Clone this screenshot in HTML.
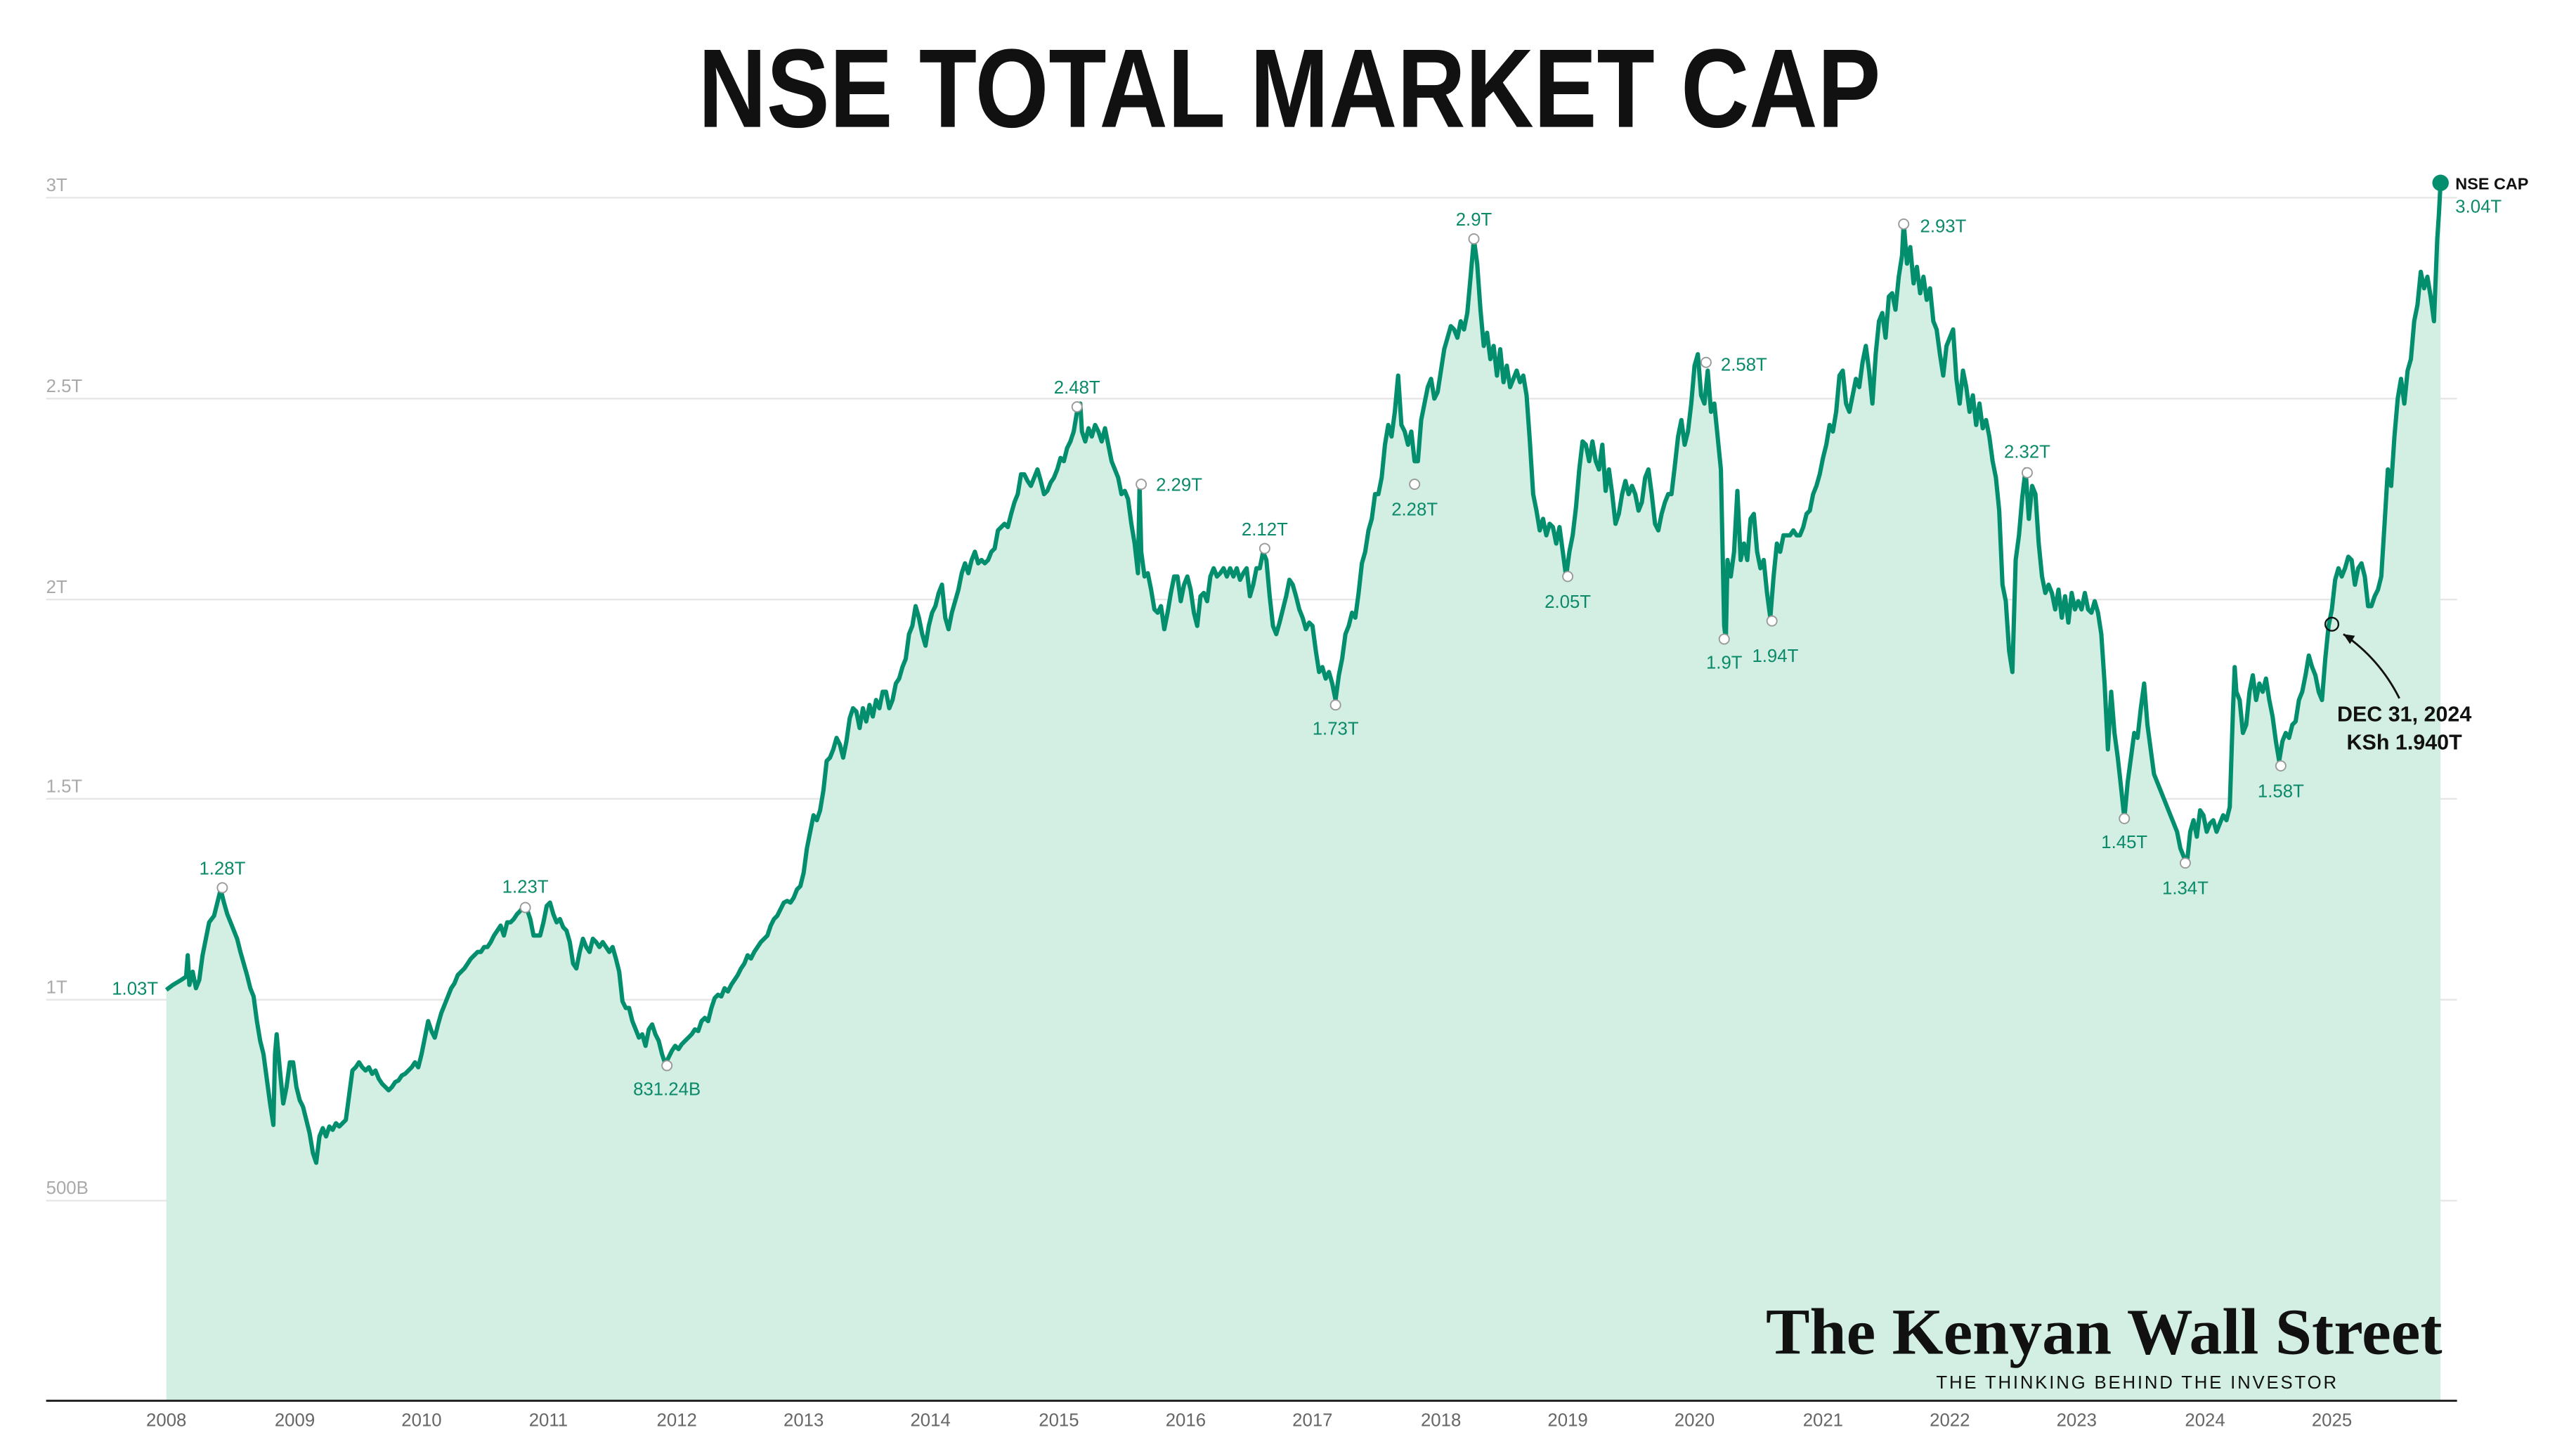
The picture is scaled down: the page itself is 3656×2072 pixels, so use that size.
<!DOCTYPE html>
<html><head><meta charset="utf-8"><style>html,body{margin:0;padding:0;background:#fff}svg{display:block}</style></head>
<body>
<svg xmlns="http://www.w3.org/2000/svg" width="3656" height="2072" viewBox="0 0 1560 884" font-family="Liberation Sans, sans-serif">
<rect width="1560" height="884" fill="#fff"/>
<text x="783" y="77" text-anchor="middle" font-size="68" font-weight="bold" fill="#111" textLength="718" lengthAdjust="spacingAndGlyphs">NSE TOTAL MARKET CAP</text>
<g stroke="#e6e6e6" stroke-width="1">
<line x1="28" x2="1492" y1="120" y2="120"/><line x1="28" x2="1492" y1="242" y2="242"/><line x1="28" x2="1492" y1="364" y2="364"/><line x1="28" x2="1492" y1="485" y2="485"/><line x1="28" x2="1492" y1="607" y2="607"/><line x1="28" x2="1492" y1="729" y2="729"/>
</g>
<g font-size="11" fill="#aaa">
<text x="28" y="116">3T</text><text x="28" y="238">2.5T</text><text x="28" y="360">2T</text><text x="28" y="481">1.5T</text><text x="28" y="603">1T</text><text x="28" y="725">500B</text>
</g>
<path fill="#d3eee2" stroke="none" d="M101,601 L105,598 110,595 113,593 114,580 115,598 117,590 119,600 121,595 123,580 125,570 127,560 130,556 132,548 134,540 136,548 138,555 140,560 142,565 144,570 146,578 148,585 150,592 152,600 154,605 156,620 158,632 160,640 162,655 164,670 166,683 167,640 168,628 170,650 172,670 174,660 176,645 178,645 180,660 182,668 184,672 186,680 188,688 190,700 192,706 194,690 196,685 198,690 200,684 202,686 204,682 206,684 208,682 210,680 212,665 214,650 216,648 218,645 220,648 222,650 224,648 226,652 228,650 230,655 232,658 234,660 236,662 238,660 240,657 242,656 244,653 246,652 248,650 250,648 252,645 254,648 256,640 258,630 260,620 262,626 264,630 266,622 268,615 270,610 272,605 274,600 276,597 278,592 280,590 282,588 284,585 286,582 288,580 290,578 292,578 294,575 296,575 298,572 300,568 302,565 304,562 306,568 308,560 310,560 312,558 314,555 316,553 318,550 320,552 322,558 324,568 326,568 328,568 330,560 332,550 334,548 336,555 338,560 340,558 342,563 344,565 346,572 348,585 350,588 352,578 354,570 356,575 358,578 360,570 362,572 364,575 366,572 368,575 370,578 372,575 374,582 376,590 378,608 380,612 382,612 384,620 386,625 388,630 390,628 392,635 394,625 396,622 398,628 400,632 402,640 404,646 406,642 408,638 410,635 412,637 414,634 416,632 418,630 420,628 422,625 424,626 426,620 428,618 430,620 432,612 434,606 436,604 438,605 440,600 442,602 444,598 446,595 448,592 450,588 452,585 454,580 456,582 458,578 460,575 462,572 464,570 466,568 468,562 470,558 472,556 474,552 476,548 478,547 480,548 482,545 484,540 486,538 488,530 490,515 492,505 494,495 496,498 498,492 500,480 502,462 504,460 506,455 508,448 510,452 512,460 514,450 516,436 518,430 520,432 522,442 524,430 526,438 528,428 530,435 532,425 534,430 536,420 538,420 540,430 542,425 544,415 546,412 548,405 550,400 552,385 554,380 556,368 558,375 560,385 562,392 564,380 566,372 568,368 570,360 572,355 574,375 576,382 578,372 580,365 582,358 584,348 586,342 588,348 590,340 592,335 594,342 596,340 598,342 600,340 602,335 604,333 606,322 608,320 610,318 612,320 614,312 616,305 618,300 620,288 622,288 624,292 626,295 628,290 630,285 632,292 634,300 636,298 638,293 640,290 642,285 644,278 646,280 648,272 650,268 652,262 654,250 656,245 657,262 659,268 661,260 663,265 665,258 667,262 669,268 671,260 673,270 675,280 677,285 679,290 681,300 683,298 685,303 687,318 689,330 691,348 692,295 693,335 695,350 697,348 699,358 701,370 703,372 705,368 707,382 709,372 711,360 713,350 715,350 717,365 719,355 721,350 723,358 725,372 727,380 729,362 731,360 733,365 735,350 737,345 739,350 741,348 743,345 745,350 747,345 749,350 751,345 753,352 755,348 757,345 759,362 761,355 763,345 765,345 767,335 769,340 771,362 773,380 775,385 777,378 779,370 781,362 783,352 785,355 787,362 789,370 791,375 793,382 795,378 797,380 799,395 801,408 803,405 805,412 807,408 809,415 811,425 813,410 815,400 817,385 819,380 821,372 823,375 825,360 827,342 829,335 831,322 833,315 835,300 837,300 839,290 841,270 843,258 845,265 847,250 849,228 851,258 853,262 855,270 857,262 859,280 861,280 863,255 865,245 867,235 869,230 871,242 873,238 875,225 877,212 879,205 881,198 883,200 885,205 887,195 889,200 891,190 893,168 895,145 897,160 899,188 901,210 903,202 905,218 907,210 909,228 911,212 913,232 915,222 917,235 919,230 921,225 923,232 925,228 927,240 929,268 931,300 933,310 935,322 937,315 939,325 941,318 943,320 945,330 947,320 949,335 951,350 953,335 955,325 957,308 959,285 961,268 963,270 965,280 967,268 969,280 971,285 973,270 975,298 977,285 979,300 981,318 983,312 985,300 987,292 989,300 991,295 993,300 995,310 997,305 999,290 1001,285 1003,300 1005,318 1007,322 1009,312 1011,305 1013,300 1015,300 1017,283 1019,265 1021,255 1023,270 1025,262 1027,245 1029,222 1031,215 1033,240 1035,245 1037,225 1039,250 1041,245 1043,265 1045,285 1047,380 1048,388 1049,340 1051,350 1053,335 1055,298 1057,340 1059,330 1061,340 1063,315 1065,312 1067,335 1069,345 1071,340 1073,360 1075,375 1077,350 1079,330 1081,335 1083,325 1085,325 1087,325 1089,322 1091,325 1093,325 1095,320 1097,312 1099,310 1101,300 1103,295 1105,288 1107,278 1109,270 1111,258 1113,262 1115,250 1117,228 1119,225 1121,245 1123,250 1125,240 1127,230 1129,235 1131,220 1133,210 1135,225 1137,245 1139,215 1141,195 1143,190 1145,205 1147,180 1149,178 1151,188 1153,168 1155,155 1156,135 1158,160 1160,150 1162,172 1164,162 1166,178 1168,168 1170,182 1172,175 1174,195 1176,200 1178,215 1180,228 1182,210 1184,205 1186,200 1188,230 1190,245 1192,225 1194,235 1196,250 1198,240 1200,258 1202,245 1204,260 1206,255 1208,265 1210,280 1212,290 1214,310 1216,355 1218,365 1220,395 1222,408 1224,340 1226,325 1228,302 1230,285 1232,315 1234,295 1236,300 1238,330 1240,350 1242,360 1244,355 1246,360 1248,370 1250,358 1252,375 1254,362 1256,378 1258,360 1260,370 1262,365 1264,370 1266,360 1268,370 1270,372 1272,365 1274,372 1276,385 1278,415 1280,455 1282,420 1284,445 1286,460 1288,478 1290,497 1292,475 1294,460 1296,445 1298,448 1300,430 1302,415 1304,440 1306,455 1308,470 1310,475 1312,480 1314,485 1316,490 1318,495 1320,500 1322,505 1324,515 1326,520 1328,524 1330,505 1332,498 1334,508 1336,492 1338,495 1340,505 1342,500 1344,498 1346,505 1348,500 1350,495 1352,498 1354,490 1356,430 1357,405 1358,420 1360,425 1362,445 1364,440 1366,420 1368,410 1370,425 1372,415 1374,420 1376,412 1378,425 1380,435 1382,450 1384,462 1386,450 1388,445 1390,448 1392,440 1394,438 1396,425 1398,420 1400,410 1402,398 1404,405 1406,410 1408,420 1410,425 1412,400 1414,380 1416,370 1418,352 1420,345 1422,350 1424,345 1426,338 1428,340 1430,355 1432,345 1434,342 1436,350 1438,368 1440,368 1442,362 1444,358 1446,350 1448,318 1450,285 1452,295 1454,265 1456,242 1458,230 1460,245 1462,225 1464,218 1466,195 1468,185 1470,165 1472,175 1474,168 1476,180 1478,195 1480,145 1481,130 1482,111 L1482,850 L101,850 Z"/>
<line x1="28" x2="1492" y1="850.5" y2="850.5" stroke="#222" stroke-width="1.3"/>
<g font-size="11" fill="#666" text-anchor="middle">
<text x="101" y="866">2008</text><text x="179" y="866">2009</text><text x="256" y="866">2010</text><text x="333" y="866">2011</text><text x="411" y="866">2012</text><text x="488" y="866">2013</text><text x="565" y="866">2014</text><text x="643" y="866">2015</text><text x="720" y="866">2016</text><text x="797" y="866">2017</text><text x="875" y="866">2018</text><text x="952" y="866">2019</text><text x="1029" y="866">2020</text><text x="1107" y="866">2021</text><text x="1184" y="866">2022</text><text x="1261" y="866">2023</text><text x="1339" y="866">2024</text><text x="1416" y="866">2025</text>
</g>
<text x="1483" y="822" text-anchor="end" font-family="Liberation Serif, serif" font-weight="bold" font-size="40" fill="#111">The Kenyan Wall Street</text>
<text x="1420" y="843" text-anchor="end" font-size="11" letter-spacing="1.2" fill="#111">THE THINKING BEHIND THE INVESTOR</text>
<path fill="none" stroke="#038f6e" stroke-width="2.6" stroke-linejoin="round" d="M101,601 L105,598 110,595 113,593 114,580 115,598 117,590 119,600 121,595 123,580 125,570 127,560 130,556 132,548 134,540 136,548 138,555 140,560 142,565 144,570 146,578 148,585 150,592 152,600 154,605 156,620 158,632 160,640 162,655 164,670 166,683 167,640 168,628 170,650 172,670 174,660 176,645 178,645 180,660 182,668 184,672 186,680 188,688 190,700 192,706 194,690 196,685 198,690 200,684 202,686 204,682 206,684 208,682 210,680 212,665 214,650 216,648 218,645 220,648 222,650 224,648 226,652 228,650 230,655 232,658 234,660 236,662 238,660 240,657 242,656 244,653 246,652 248,650 250,648 252,645 254,648 256,640 258,630 260,620 262,626 264,630 266,622 268,615 270,610 272,605 274,600 276,597 278,592 280,590 282,588 284,585 286,582 288,580 290,578 292,578 294,575 296,575 298,572 300,568 302,565 304,562 306,568 308,560 310,560 312,558 314,555 316,553 318,550 320,552 322,558 324,568 326,568 328,568 330,560 332,550 334,548 336,555 338,560 340,558 342,563 344,565 346,572 348,585 350,588 352,578 354,570 356,575 358,578 360,570 362,572 364,575 366,572 368,575 370,578 372,575 374,582 376,590 378,608 380,612 382,612 384,620 386,625 388,630 390,628 392,635 394,625 396,622 398,628 400,632 402,640 404,646 406,642 408,638 410,635 412,637 414,634 416,632 418,630 420,628 422,625 424,626 426,620 428,618 430,620 432,612 434,606 436,604 438,605 440,600 442,602 444,598 446,595 448,592 450,588 452,585 454,580 456,582 458,578 460,575 462,572 464,570 466,568 468,562 470,558 472,556 474,552 476,548 478,547 480,548 482,545 484,540 486,538 488,530 490,515 492,505 494,495 496,498 498,492 500,480 502,462 504,460 506,455 508,448 510,452 512,460 514,450 516,436 518,430 520,432 522,442 524,430 526,438 528,428 530,435 532,425 534,430 536,420 538,420 540,430 542,425 544,415 546,412 548,405 550,400 552,385 554,380 556,368 558,375 560,385 562,392 564,380 566,372 568,368 570,360 572,355 574,375 576,382 578,372 580,365 582,358 584,348 586,342 588,348 590,340 592,335 594,342 596,340 598,342 600,340 602,335 604,333 606,322 608,320 610,318 612,320 614,312 616,305 618,300 620,288 622,288 624,292 626,295 628,290 630,285 632,292 634,300 636,298 638,293 640,290 642,285 644,278 646,280 648,272 650,268 652,262 654,250 656,245 657,262 659,268 661,260 663,265 665,258 667,262 669,268 671,260 673,270 675,280 677,285 679,290 681,300 683,298 685,303 687,318 689,330 691,348 692,295 693,335 695,350 697,348 699,358 701,370 703,372 705,368 707,382 709,372 711,360 713,350 715,350 717,365 719,355 721,350 723,358 725,372 727,380 729,362 731,360 733,365 735,350 737,345 739,350 741,348 743,345 745,350 747,345 749,350 751,345 753,352 755,348 757,345 759,362 761,355 763,345 765,345 767,335 769,340 771,362 773,380 775,385 777,378 779,370 781,362 783,352 785,355 787,362 789,370 791,375 793,382 795,378 797,380 799,395 801,408 803,405 805,412 807,408 809,415 811,425 813,410 815,400 817,385 819,380 821,372 823,375 825,360 827,342 829,335 831,322 833,315 835,300 837,300 839,290 841,270 843,258 845,265 847,250 849,228 851,258 853,262 855,270 857,262 859,280 861,280 863,255 865,245 867,235 869,230 871,242 873,238 875,225 877,212 879,205 881,198 883,200 885,205 887,195 889,200 891,190 893,168 895,145 897,160 899,188 901,210 903,202 905,218 907,210 909,228 911,212 913,232 915,222 917,235 919,230 921,225 923,232 925,228 927,240 929,268 931,300 933,310 935,322 937,315 939,325 941,318 943,320 945,330 947,320 949,335 951,350 953,335 955,325 957,308 959,285 961,268 963,270 965,280 967,268 969,280 971,285 973,270 975,298 977,285 979,300 981,318 983,312 985,300 987,292 989,300 991,295 993,300 995,310 997,305 999,290 1001,285 1003,300 1005,318 1007,322 1009,312 1011,305 1013,300 1015,300 1017,283 1019,265 1021,255 1023,270 1025,262 1027,245 1029,222 1031,215 1033,240 1035,245 1037,225 1039,250 1041,245 1043,265 1045,285 1047,380 1048,388 1049,340 1051,350 1053,335 1055,298 1057,340 1059,330 1061,340 1063,315 1065,312 1067,335 1069,345 1071,340 1073,360 1075,375 1077,350 1079,330 1081,335 1083,325 1085,325 1087,325 1089,322 1091,325 1093,325 1095,320 1097,312 1099,310 1101,300 1103,295 1105,288 1107,278 1109,270 1111,258 1113,262 1115,250 1117,228 1119,225 1121,245 1123,250 1125,240 1127,230 1129,235 1131,220 1133,210 1135,225 1137,245 1139,215 1141,195 1143,190 1145,205 1147,180 1149,178 1151,188 1153,168 1155,155 1156,135 1158,160 1160,150 1162,172 1164,162 1166,178 1168,168 1170,182 1172,175 1174,195 1176,200 1178,215 1180,228 1182,210 1184,205 1186,200 1188,230 1190,245 1192,225 1194,235 1196,250 1198,240 1200,258 1202,245 1204,260 1206,255 1208,265 1210,280 1212,290 1214,310 1216,355 1218,365 1220,395 1222,408 1224,340 1226,325 1228,302 1230,285 1232,315 1234,295 1236,300 1238,330 1240,350 1242,360 1244,355 1246,360 1248,370 1250,358 1252,375 1254,362 1256,378 1258,360 1260,370 1262,365 1264,370 1266,360 1268,370 1270,372 1272,365 1274,372 1276,385 1278,415 1280,455 1282,420 1284,445 1286,460 1288,478 1290,497 1292,475 1294,460 1296,445 1298,448 1300,430 1302,415 1304,440 1306,455 1308,470 1310,475 1312,480 1314,485 1316,490 1318,495 1320,500 1322,505 1324,515 1326,520 1328,524 1330,505 1332,498 1334,508 1336,492 1338,495 1340,505 1342,500 1344,498 1346,505 1348,500 1350,495 1352,498 1354,490 1356,430 1357,405 1358,420 1360,425 1362,445 1364,440 1366,420 1368,410 1370,425 1372,415 1374,420 1376,412 1378,425 1380,435 1382,450 1384,462 1386,450 1388,445 1390,448 1392,440 1394,438 1396,425 1398,420 1400,410 1402,398 1404,405 1406,410 1408,420 1410,425 1412,400 1414,380 1416,370 1418,352 1420,345 1422,350 1424,345 1426,338 1428,340 1430,355 1432,345 1434,342 1436,350 1438,368 1440,368 1442,362 1444,358 1446,350 1448,318 1450,285 1452,295 1454,265 1456,242 1458,230 1460,245 1462,225 1464,218 1466,195 1468,185 1470,165 1472,175 1474,168 1476,180 1478,195 1480,145 1481,130 1482,111"/>
<g fill="#fff" stroke="#999" stroke-width="0.8">
<circle cx="135" cy="539" r="3"/><circle cx="319" cy="551" r="3"/><circle cx="405" cy="647" r="3"/><circle cx="654" cy="247" r="3"/><circle cx="693" cy="294" r="3"/><circle cx="768" cy="333" r="3"/><circle cx="811" cy="428" r="3"/><circle cx="895" cy="145" r="3"/><circle cx="859" cy="294" r="3"/><circle cx="952" cy="350" r="3"/><circle cx="1036" cy="220" r="3"/><circle cx="1047" cy="388" r="3"/><circle cx="1076" cy="377" r="3"/><circle cx="1156" cy="136" r="3"/><circle cx="1231" cy="287" r="3"/><circle cx="1290" cy="497" r="3"/><circle cx="1327" cy="524" r="3"/><circle cx="1385" cy="465" r="3"/>
</g>
<g font-size="11" fill="#0b8a6a" text-anchor="middle">
<text x="82" y="604">1.03T</text><text x="135" y="531">1.28T</text><text x="319" y="542">1.23T</text><text x="405" y="665">831.24B</text><text x="654" y="239">2.48T</text><text x="716" y="298">2.29T</text><text x="768" y="325">2.12T</text><text x="811" y="446">1.73T</text><text x="895" y="137">2.9T</text><text x="859" y="313">2.28T</text><text x="952" y="369">2.05T</text><text x="1059" y="225">2.58T</text><text x="1047" y="406">1.9T</text><text x="1078" y="402">1.94T</text><text x="1180" y="141">2.93T</text><text x="1231" y="278">2.32T</text><text x="1290" y="515">1.45T</text><text x="1327" y="543">1.34T</text><text x="1385" y="484">1.58T</text>
</g>
<circle cx="1482" cy="111" r="5" fill="#038f6e"/>
<text x="1491" y="115" font-size="10" font-weight="bold" fill="#111">NSE CAP</text>
<text x="1491" y="129" font-size="11" fill="#0b8a6a">3.04T</text>
<circle cx="1416" cy="379" r="4" fill="none" stroke="#111" stroke-width="1"/>
<path d="M1457,424 Q1445,400 1423,385" fill="none" stroke="#111" stroke-width="1.2"/>
<path d="M1423,385 l7,1 l-3,5 z" fill="#111"/>
<g font-size="13" font-weight="bold" fill="#111" text-anchor="middle">
<text x="1460" y="438">DEC 31, 2024</text><text x="1460" y="455">KSh 1.940T</text>
</g>
</svg>
</body></html>
